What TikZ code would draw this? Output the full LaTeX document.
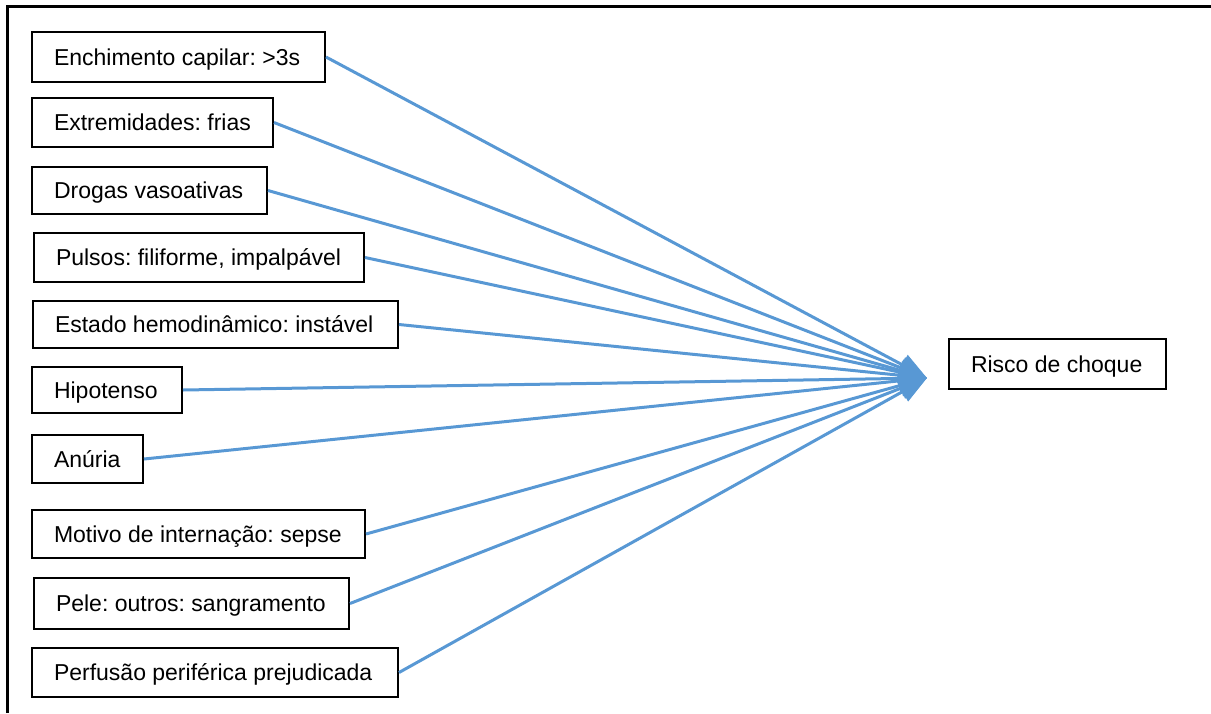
\documentclass[tikz,border=0pt]{standalone}
\usepackage{fontspec}
\setmainfont{Liberation Sans}
\usetikzlibrary{arrows.meta}
\definecolor{arrowblue}{RGB}{88,152,212}
\frenchspacing
\begin{document}
\begin{tikzpicture}[x=1pt,y=-1pt,
  box/.style={draw=black, line width=2pt, fill=white, inner xsep=22pt, inner ysep=0pt,
    font=\fontsize{23}{27}\selectfont, text height=16.4pt, text depth=0pt, anchor=center},
  conn/.style={draw=arrowblue, line width=3pt, -{Triangle[length=28pt,width=22pt]}}]
\useasboundingbox (0,0) rectangle (1211,713);
\draw[line width=3pt] (7,713) -- (7,6) -- (1211,6);
\newcommand{\boxnode}[6]{%
  \node[box, minimum width={#4-#2}, minimum height={#5-#3}]
    (#1) at ({(#2+#4)/2},{(#3+#5)/2}) {\makebox[\dimexpr #4pt-#2pt-44pt\relax][l]{#6}};}
\boxnode{b1}{32}{32}{325}{82}{Enchimento capilar: >3s}
\boxnode{b2}{32}{98}{273}{147}{Extremidades: frias}
\boxnode{b3}{32}{167}{267}{214}{Drogas vasoativas}
\boxnode{b4}{34}{233}{364}{282}{Pulsos: filiforme, impalpável}
\boxnode{b5}{33}{301}{398}{348}{Estado hemodinâmico: instável}
\boxnode{b6}{32}{367}{182}{413}{Hipotenso}
\boxnode{b7}{32}{435}{143}{483}{Anúria}
\boxnode{b8}{32}{510}{365}{558}{Motivo de internação: sepse}
\boxnode{b9}{34}{578}{349}{629}{Pele: outros: sangramento}
\boxnode{b10}{32}{648}{398}{697}{Perfusão periférica prejudicada}
\boxnode{r}{949}{339}{1166}{389}{Risco de choque}
\coordinate (tip) at (927,378);
\foreach \n in {b1,b2,b3,b4,b5,b6,b7,b8,b9,b10}
  \draw[conn] (\n.east) -- (tip);
\end{tikzpicture}
\end{document}
